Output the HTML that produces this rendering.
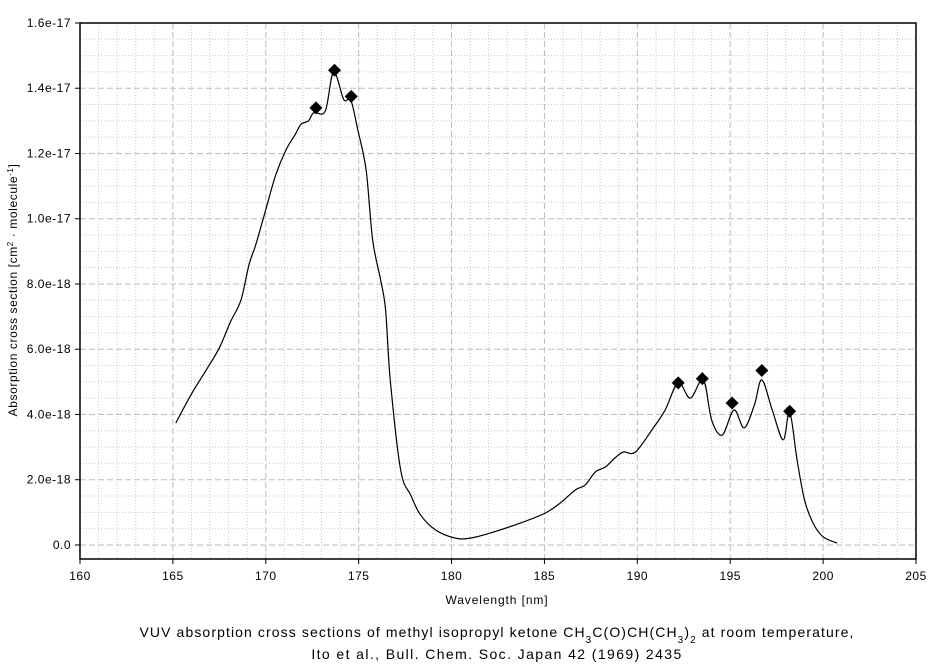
<!DOCTYPE html>
<html><head><meta charset="utf-8"><style>
body{margin:0;background:#fff;width:939px;height:665px;overflow:hidden}
svg text{font-family:"Liberation Sans",sans-serif;fill:#000}
</style></head><body>
<svg id="chart" width="939" height="665" xmlns="http://www.w3.org/2000/svg">
<g id="grid"></g><g id="axes"></g><g id="series"></g>
<text x="497" y="604" font-size="12" letter-spacing="0.9" text-anchor="middle">Wavelength [nm]</text>
<text transform="translate(17,290) rotate(-90)" font-size="12" letter-spacing="0.6" text-anchor="middle">Absorption cross section [cm<tspan baseline-shift="super" font-size="8">2</tspan> · molecule<tspan baseline-shift="super" font-size="8">-1</tspan>]</text>
<text x="497" y="637" font-size="14" letter-spacing="1.1" text-anchor="middle">VUV absorption cross sections of methyl isopropyl ketone CH<tspan baseline-shift="sub" font-size="10">3</tspan>C(O)CH(CH<tspan baseline-shift="sub" font-size="10">3</tspan>)<tspan baseline-shift="sub" font-size="10">2</tspan> at room temperature,</text>
<text x="497" y="659" font-size="14" letter-spacing="1.4" text-anchor="middle">Ito et al., Bull. Chem. Soc. Japan 42 (1969) 2435</text>
</svg>
<script>
const xTicks=[160,165,170,175,180,185,190,195,200,205];
const yTicks=[0,2,4,6,8,10,12,14,16];
const yTickLabels=["0.0","2.0e-18","4.0e-18","6.0e-18","8.0e-18","1.0e-17","1.2e-17","1.4e-17","1.6e-17"];
const wl=[165.16,165.97,166.8,167.5,168.1,168.66,169.1,169.46,170.0,170.54,171.08,171.6,171.9,172.3,172.58,173.2,173.65,174.2,174.57,174.95,175.4,175.75,176.18,176.45,176.7,177.26,177.8,178.33,179.14,180.2,181.0,182.1,183.7,185.05,185.86,186.67,187.2,187.74,188.28,188.8,189.25,189.9,190.86,191.5,192.2,192.85,193.55,194.0,194.57,195.2,195.75,196.3,196.7,197.26,197.85,198.2,198.6,199.0,199.46,200.0,200.75];
const xs=[3.74,4.6,5.37,6.04,6.84,7.5,8.6,9.2,10.28,11.35,12.1,12.6,12.9,13.0,13.25,13.3,14.5,13.65,13.65,12.73,11.5,9.36,8.13,7.2,5.06,2.3,1.53,0.92,0.46,0.21,0.21,0.37,0.67,0.98,1.29,1.69,1.84,2.24,2.39,2.67,2.85,2.85,3.59,4.14,4.97,4.5,5.06,3.83,3.37,4.14,3.59,4.29,5.06,4.14,3.22,4.08,2.6,1.38,0.67,0.25,0.06];
const markWl=[172.7,173.7,174.6,192.2,193.5,195.1,196.7,198.2];
const markXs=[13.4,14.55,13.75,4.97,5.1,4.35,5.35,4.1];
const L=80,R=916,T=23,B=559,X0=160,X1=205,Y0=-0.43,Y1=16;
const sx=v=>L+(v-X0)/(X1-X0)*(R-L);
const sy=v=>B-(v-Y0)/(Y1-Y0)*(B-T);
const NS="http://www.w3.org/2000/svg";
function mk(tag,attrs,parent){const e=document.createElementNS(NS,tag);for(const k in attrs)e.setAttribute(k,attrs[k]);document.getElementById(parent).appendChild(e);return e;}
for(let v=X0+1;v<X1;v++){if(v%5===0)continue;const e=mk('line',{x1:sx(v),x2:sx(v),y1:T,y2:B,stroke:'#c8c8c8','stroke-dasharray':'1,2'},'grid');

}
for(let v=0;v<Y1;v+=0.5){if(v%2===0)continue;const e=mk('line',{x1:L,x2:R,y1:sy(v),y2:sy(v),stroke:'#c8c8c8','stroke-dasharray':'1,2'},'grid');

}
xTicks.forEach(v=>{if(v===X0||v===X1)return;const e=mk('line',{x1:sx(v),x2:sx(v),y1:T,y2:B,stroke:'#bdbdbd','stroke-dasharray':'6,3'},'grid');

});
yTicks.forEach(v=>{if(v===Y1)return;const e=mk('line',{x1:L,x2:R,y1:sy(v),y2:sy(v),stroke:'#bdbdbd','stroke-dasharray':'6,3'},'grid');

});
const frame=mk('path',{d:`M${L},${T}H${R}V${B}H${L}Z`,fill:'none',stroke:'#000','stroke-width':1.5},'axes');


xTicks.forEach(v=>{const t=mk('line',{x1:sx(v),x2:sx(v),y1:B,y2:B+5,stroke:'#000'},'axes');


const l=mk('text',{x:sx(v),y:B+21,'font-size':12,'letter-spacing':0.5,'text-anchor':'middle'},'axes');l.textContent=v;

});
yTicks.forEach((v,i)=>{const t=mk('line',{x1:L-5,x2:L,y1:sy(v),y2:sy(v),stroke:'#000'},'axes');


const l=mk('text',{x:L-9,y:sy(v)+4,'font-size':12,'letter-spacing':0.5,'text-anchor':'end'},'axes');l.textContent=yTickLabels[i];

});
const P=wl.map((w,i)=>[sx(w),sy(xs[i])]);
let d=`M${P[0][0]},${P[0][1]}`;
for(let i=0;i<P.length-1;i++){const p0=P[Math.max(0,i-1)],p1=P[i],p2=P[i+1],p3=P[Math.min(P.length-1,i+2)];
d+=`C${p1[0]+(p2[0]-p0[0])/6},${p1[1]+(p2[1]-p0[1])/6} ${p2[0]-(p3[0]-p1[0])/6},${p2[1]-(p3[1]-p1[1])/6} ${p2[0]},${p2[1]}`;}
const line=mk('path',{d:d,fill:'none',stroke:'#000','stroke-width':1.2},'series');


markWl.forEach((w,i)=>{const x=sx(w),y=sy(markXs[i]),s=6.5;const m=mk('path',{d:`M${x},${y-s}L${x+s},${y}L${x},${y+s}L${x-s},${y}Z`,fill:'#000'},'series');

});
</script>
</body></html>
